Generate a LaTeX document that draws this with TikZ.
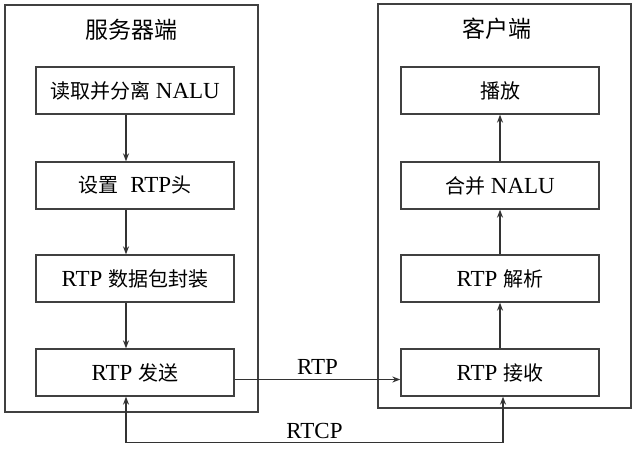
\documentclass[tikz,border=0pt]{standalone}
\usepackage{fontspec}
\setmainfont{Liberation Serif}
\newfontfamily\cjk{Noto Sans CJK SC}
\newcommand{\zh}[1]{{\cjk\fontsize{20}{23}\selectfont #1}}
\newcommand{\zhtitle}[1]{{\cjk\fontsize{23}{26}\selectfont #1}}
\usetikzlibrary{arrows.meta}
\tikzset{
	frame/.style={draw=black!75, line width=1.3pt, inner sep=0pt, minimum width=253pt},
	stage/.style={draw=black!75, line width=1.3pt, inner sep=0pt, minimum width=198pt, minimum height=47pt, font=\fontsize{23}{26}\selectfont},
	flow/.style={line width=1.3pt, draw=black!80, >={Stealth[length=8pt,width=6pt]}}
}
\begin{document}
\begin{tikzpicture}[x=1pt,y=-1pt]
	
	\useasboundingbox (0,0) rectangle (637,449);
	
	\node[frame, minimum height=407pt] (server) at (131.5,208.5) {};
	\node[frame, minimum height=404pt] (client) at (504.5,206) {};
	\node (servertitle) at (131,30) {\zhtitle{服务器端}};
	\node (clienttitle) at (497,29) {\zhtitle{客户端}};
	
	\node[stage] (s1) at (135,90.5) {\zh{读取并分离} NALU};
	\node[stage] (s2) at (135,185.5) {\zh{设置}\ \ RTP\zh{头}};
	\node[stage] (s3) at (135,278.5) {RTP \zh{数据包封装}};
	\node[stage] (s4) at (135,372.5) {RTP \zh{发送}};
	
	\node[stage] (c1) at (500,90.5) {\zh{播放}};
	\node[stage] (c2) at (500,185.5) {\zh{合并} NALU};
	\node[stage] (c3) at (500,278.5) {RTP \zh{解析}};
	\node[stage] (c4) at (500,372.5) {RTP \zh{接收}};
	
	\draw[flow, ->] ([xshift=-9pt]s1.south) -- ([xshift=-9pt]s2.north);
	\draw[flow, ->] ([xshift=-9pt]s2.south) -- ([xshift=-9pt]s3.north);
	\draw[flow, ->] ([xshift=-9pt]s3.south) -- ([xshift=-9pt]s4.north);
	
	\draw[flow, ->] (c4.north) -- (c3.south);
	\draw[flow, ->] (c3.north) -- (c2.south);
	\draw[flow, ->] (c2.north) -- (c1.south);
	
	\draw[flow, ->] ([yshift=-7pt]s4.east) -- node[above, yshift=1pt, font=\fontsize{23}{26}\selectfont] {RTP} ([yshift=-7pt]c4.west);
	\draw[flow, <->] ([xshift=-9pt]s4.south) |- node[above, pos=0.75, font=\fontsize{23}{26}\selectfont] {RTCP} ([xshift=3pt,yshift=-46pt]c4.south) -- ([xshift=3pt]c4.south);
	
\end{tikzpicture}
\end{document}
